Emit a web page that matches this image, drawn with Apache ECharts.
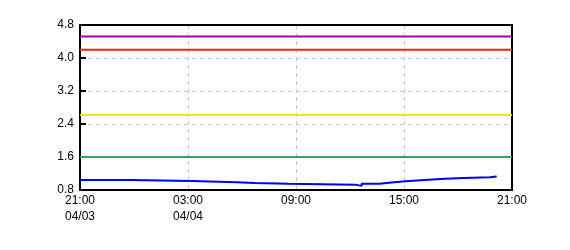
<!DOCTYPE html>
<html><head><meta charset="utf-8">
<script src="https://cdn.jsdelivr.net/npm/echarts@6/dist/echarts.min.js"></script>
<style>html,body{margin:0;padding:0;background:#fff}#c{width:570px;height:250px}</style>
</head><body><div id="c"></div>
<script>
// Level lines (constant thresholds)
const levelValues = [4.52, 4.2, 2.62, 1.6];
const levelColors = ['#a000a8', '#ff2000', '#f0e800', '#33a46c'];
// Measured series (time, value), step changes
const times = ['04/03 21:00','04/03 23:51','04/04 03:13','04/04 05:42','04/04 06:43','04/04 08:34','04/04 12:17','04/04 12:39','04/04 13:38','04/04 14:27','04/04 15:06','04/04 16:08','04/04 17:17','04/04 18:18','04/04 19:47','04/04 20:09'];
const values = [1.04,1.02,0.99,0.97,0.95,0.93,0.90,0.95,0.99,1.01,1.04,1.07,1.09,1.11,1.13,1.13];
// Axis tick labels
const xTickLabels = ['21:00\n04/03','03:00\n04/04','09:00','15:00','21:00'];
const yTicks = [0.8,1.6,2.4,3.2,4.0,4.8];

function toHours(s){
  const [d,t]=s.split(' ');
  const day=parseInt(d.split('/')[1],10);
  const [h,m]=t.split(':').map(Number);
  return (day-3)*24 + h + m/60 - 21;
}
const blueData = times.map((t,i)=>[toHours(t), values[i]]);

const chart = echarts.init(document.getElementById('c'), null, {renderer:'canvas'});
const series = levelValues.map((v,i)=>({
  type:'line', data:[[0,v],[24,v]], symbol:'none', silent:true,
  lineStyle:{color:levelColors[i], width:2}, z:3
}));
series.push({type:'line', data:blueData, step:'end', symbol:'none',
  lineStyle:{color:'#0000ff', width:2}, z:4});

const dash = {show:true, lineStyle:{color:'#c8c8c8', type:[4,4], width:1}};
const font = {color:'#000', fontFamily:'Liberation Sans, Arial', fontSize:12};
chart.setOption({
  animation:false,
  grid:{left:80, right:58, top:25, bottom:60, show:false},
  xAxis:[{type:'value', min:0, max:24, interval:6,
    axisLine:{show:true, onZero:false, lineStyle:{color:'#000', width:2}},
    axisTick:{show:false},
    splitLine:dash,
    axisLabel:Object.assign({}, font, {lineHeight:16, margin:3,
      formatter:(v)=>xTickLabels[Math.round(v/6)]})
  },{type:'value', position:'top', min:0, max:24, interval:6,
    axisLine:{show:true, onZero:false, lineStyle:{color:'#000', width:2}},
    axisTick:{show:false}, axisLabel:{show:false}, splitLine:{show:false}}],
  yAxis:[{type:'value', min:0.8, max:4.8, interval:0.8,
    axisLine:{show:true, onZero:false, lineStyle:{color:'#000', width:2}},
    axisTick:{show:true, inside:true, length:6, lineStyle:{color:'#000', width:2}},
    splitLine:dash,
    axisLabel:Object.assign({}, font, {margin:6,
      formatter:(v)=>{const t=yTicks.find(x=>Math.abs(x-v)<1e-6); return t!==undefined? t.toFixed(1):'';}})
  },{type:'value', position:'right', min:0.8, max:4.8, interval:0.8,
    axisLine:{show:true, onZero:false, lineStyle:{color:'#000', width:2}},
    axisTick:{show:false}, axisLabel:{show:false}, splitLine:{show:false}}],
  series:series
});
</script></body></html>
